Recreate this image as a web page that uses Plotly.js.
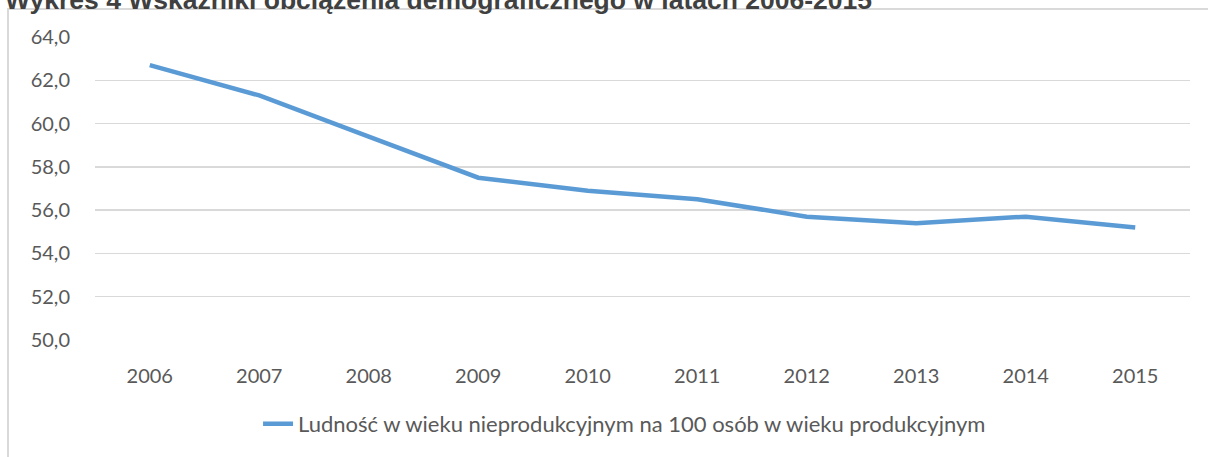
<!DOCTYPE html>
<html>
<head>
<meta charset="utf-8">
<script src="https://cdn.plot.ly/plotly-3.0.1.min.js"></script>
<style>
html,body{margin:0;padding:0;background:#fff;overflow:hidden;}
#wrap{position:relative;width:1208px;height:457px;}
#chart{position:absolute;left:0;top:0;width:1208px;height:457px;}
#frame{position:absolute;left:7px;top:8px;width:1300px;height:600px;border:2px solid #d9d9d9;pointer-events:none;box-sizing:border-box;}
</style>
</head>
<body>
<div id="wrap">
<div id="frame"></div>
<div id="chart"></div>
</div>
<script>
const chartTitle = "Wykres 4 Wskaźniki obciążenia demograficznego w latach 2006-2015";
const years = ["2006","2007","2008","2009","2010","2011","2012","2013","2014","2015"];
const seriesName = "Ludność w wieku nieprodukcyjnym na 100 osób w wieku produkcyjnym";
const dependencyRatio = [62.7, 61.3, 59.4, 57.5, 56.9, 56.5, 55.7, 55.4, 55.7, 55.2];
const yTicks = [50, 52, 54, 56, 58, 60, 62, 64];

const trace = {
  x: years,
  y: dependencyRatio,
  type: "scatter",
  mode: "lines",
  name: seriesName,
  line: {color: "#5b9bd5", width: 4.5},
  hoverinfo: "x+y"
};

const layout = {
  width: 1208,
  height: 457,
  margin: {l: 95, r: 18, t: 37, b: 117},
  paper_bgcolor: "rgba(0,0,0,0)",
  plot_bgcolor: "rgba(0,0,0,0)",
  separators: ", ",
  title: {
    text: "<b>" + chartTitle + "</b>",
    font: {family: "Liberation Sans, Arial, sans-serif", size: 26.5, color: "#404040"},
    x: 0, xref: "container", xanchor: "left",
    y: 1, yref: "container", yanchor: "middle",
    pad: {l: 5}
  },
  font: {family: "Lato, sans-serif", size: 20, color: "#595959"},
  xaxis: {
    type: "category",
    range: [-0.5, years.length - 0.5],
    showgrid: false,
    zeroline: false,
    showline: false,
    ticks: "outside",
    ticklen: 18,
    tickcolor: "rgba(0,0,0,0)",
    tickfont: {family: "Lato, sans-serif", size: 20, color: "#595959"}
  },
  yaxis: {
    range: [50, 64],
    tickvals: yTicks,
    tickformat: ".1f",
    showgrid: true,
    gridcolor: "#d9d9d9",
    gridwidth: 1.3,
    zeroline: false,
    showline: false,
    ticks: "outside",
    ticklen: 20,
    tickcolor: "rgba(0,0,0,0)",
    tickfont: {family: "Lato, sans-serif", size: 20, color: "#595959"}
  },
  showlegend: true,
  legend: {
    orientation: "h",
    x: 0.1489, xanchor: "left",
    y: -0.277, yanchor: "middle",
    font: {family: "Lato, sans-serif", size: 22, color: "#595959"},
    bgcolor: "rgba(0,0,0,0)"
  }
};

Plotly.newPlot("chart", [trace], layout, {displayModeBar: false, staticPlot: true});
</script>
</body>
</html>
